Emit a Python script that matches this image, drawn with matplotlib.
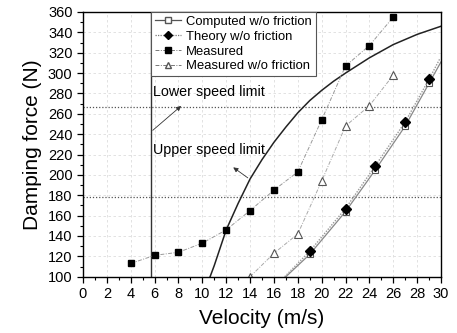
import matplotlib
matplotlib.use("Agg")
import matplotlib.pyplot as plt
from matplotlib.ticker import MultipleLocator

plt.rcParams['font.family'] = ['Liberation Sans', 'DejaVu Sans']

# measured, with friction
meas_v = [4, 6, 8, 10, 12, 14, 16, 18, 20, 22, 24, 26]
meas_f = [113, 121, 124, 133, 146, 165, 185, 203, 254, 307, 327, 355]

# measured w/o friction
measnf_v = [14, 16, 18, 20, 22, 24, 26]
measnf_f = [100, 123, 142, 194, 248, 268, 298]

# computed w/o friction (line + markers)
comp_line_v = [17, 19, 22, 24.5, 27, 29, 30]
comp_line_f = [100, 122, 164, 205, 248, 290, 311]
comp_v = [19, 22, 24.5, 27, 29]
comp_f = [122, 164, 205, 248, 290]

# theory w/o friction
theo_line_v = [16.9, 19, 22, 24.5, 27, 29, 29.9]
theo_line_f = [100, 125, 167, 209, 252, 294, 314]
theo_v = [19, 22, 24.5, 27, 29]
theo_f = [125, 167, 209, 252, 294]

# limit curve
curve_v = [10.65, 11, 12, 13, 14, 15, 16, 17, 18, 19, 20, 21, 22, 24, 26, 28, 30]
curve_f = [100, 111, 146, 172, 196, 215, 232, 247, 261, 273, 283, 292, 300, 315, 328, 338, 346]

v_limit = 5.67
f_lower = 267
f_upper = 178

fig = plt.figure(figsize=(4.57, 3.33), dpi=100)
ax = fig.add_axes([0.1816, 0.169, 0.7834, 0.795])

ax.grid(True, color='#dddddd', linestyle=(0, (3, 3)), linewidth=0.6)
ax.set_axisbelow(True)

ax.axvline(v_limit, color='#333333', lw=1.0)
ax.axhline(f_lower, color='#555555', lw=0.9, linestyle=(0, (1, 1.5)))
ax.axhline(f_upper, color='#555555', lw=0.9, linestyle=(0, (1, 1.5)))

ax.plot(curve_v, curve_f, color='#222222', lw=1.1)

ax.plot(comp_line_v, comp_line_f, color='#888888', lw=0.9)
ax.plot(comp_v, comp_f, ls='none', marker='s', ms=5, mfc='white', mec='#555555', mew=0.8)
ax.plot(theo_line_v, theo_line_f, color='#999999', lw=1.0, ls=(0, (1, 1)))
ax.plot(theo_v, theo_f, ls='none', marker='D', ms=5, color='black')
ax.plot(meas_v, meas_f, color='#999999', lw=0.7, ls=(0, (4, 1.5, 1, 1.5)),
        marker='s', ms=5, mfc='black', mec='black')
ax.plot(measnf_v, measnf_f, color='#aaaaaa', lw=0.7, ls=(0, (4, 1.5, 1, 1.5)),
        marker='^', ms=6, mfc='white', mec='#555555', mew=0.8)

# legend proxies
h1, = ax.plot([], [], color='#555555', lw=0.9, marker='s', ms=4, mfc='white', mec='#555555')
h2, = ax.plot([], [], color='#777777', lw=0.9, ls=(0, (1, 1)), marker='D', ms=4,
              mfc='black', mec='black')
h3, = ax.plot([], [], color='#777777', lw=0.7, ls=(0, (4, 1.5, 1, 1.5)), marker='s', ms=4,
              mfc='black', mec='black')
h4, = ax.plot([], [], color='#777777', lw=0.7, ls=(0, (4, 1.5, 1, 1.5)), marker='^', ms=5,
              mfc='white', mec='#555555')
leg = ax.legend([h1, h2, h3, h4],
                ['Computed w/o friction', 'Theory w/o friction', 'Measured', 'Measured w/o friction'],
                loc='upper left', bbox_to_anchor=(0.19, 1.0), fontsize=9.4, frameon=True,
                fancybox=False, edgecolor='#555555', framealpha=1, handlelength=2.0,
                handletextpad=0.4, borderpad=0.3, labelspacing=0.2, borderaxespad=0)
leg.get_frame().set_linewidth(0.8)

ax.annotate('Lower speed limit', xy=(8.4, 269.5), xytext=(5.85, 281),
            fontsize=10.3, va='center', ha='left')
ax.annotate('', xy=(8.4, 269.5), xytext=(5.67, 242),
            arrowprops=dict(arrowstyle='-|>', color='#333333', lw=0.6, mutation_scale=7))
ax.annotate('Upper speed limit', xy=(12.4, 209), xytext=(5.85, 224),
            fontsize=10.3, va='center', ha='left')
ax.annotate('', xy=(12.4, 209), xytext=(14.0, 195.5),
            arrowprops=dict(arrowstyle='-|>', color='#333333', lw=0.6, mutation_scale=7))

ax.set_xlim(0, 30)
ax.set_ylim(100, 360)
ax.xaxis.set_major_locator(MultipleLocator(2))
ax.xaxis.set_minor_locator(MultipleLocator(1))
ax.yaxis.set_major_locator(MultipleLocator(20))
ax.yaxis.set_minor_locator(MultipleLocator(10))
ax.tick_params(which='major', direction='out', length=4, width=0.9, labelsize=10.5)
ax.tick_params(which='minor', direction='out', length=2.5, width=0.8)
for s in ax.spines.values():
    s.set_linewidth(1.0)

ax.set_xlabel('Velocity (m/s)', fontsize=15, labelpad=6)
ax.set_ylabel('Damping force (N)', fontsize=15, labelpad=4)

fig.savefig('out.png', dpi=100)
